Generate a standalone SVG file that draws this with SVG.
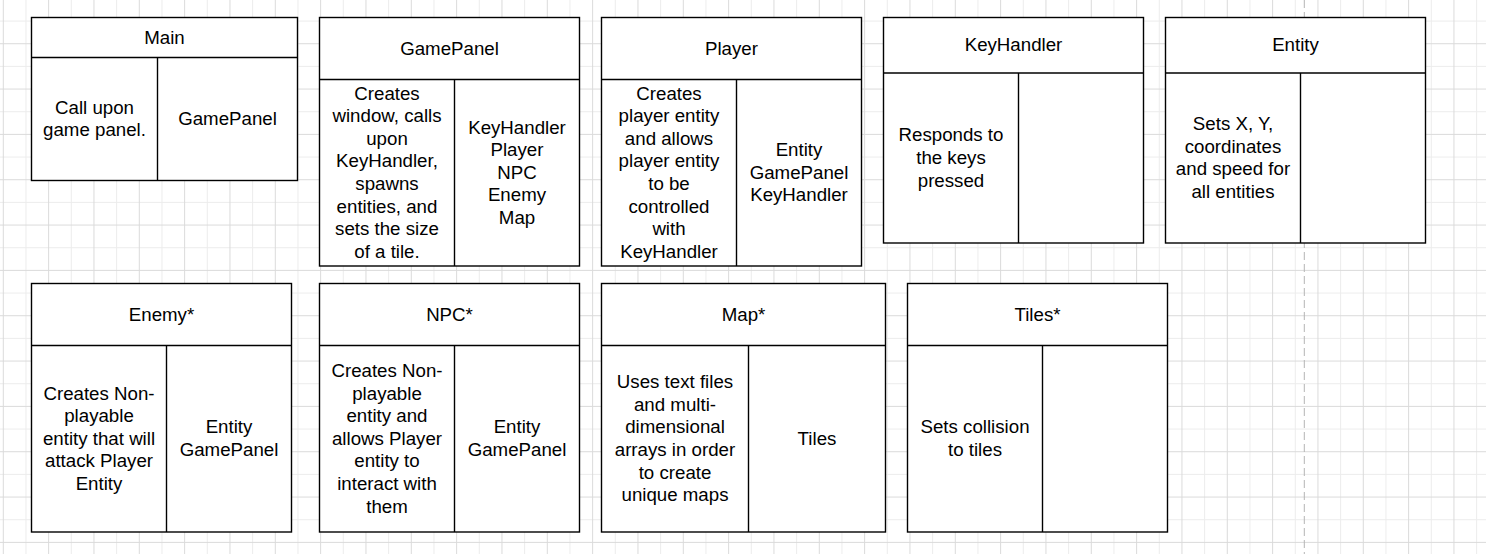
<svg xmlns="http://www.w3.org/2000/svg" width="1486" height="554" viewBox="0 0 1486 554">
<defs>
<pattern id="grid" patternUnits="userSpaceOnUse" x="2.8" y="-2.1" width="45.333" height="45.333">
<rect x="22.667" y="0" width="1" height="45.333" fill="#ececec"/>
<rect x="0" y="22.667" width="45.333" height="1" fill="#ececec"/>
<rect x="0" y="0" width="1" height="45.333" fill="#dadada"/>
<rect x="0" y="0" width="45.333" height="1" fill="#dadada"/>
</pattern>
<style>
.box rect{fill:#ffffff;stroke:#000000;stroke-width:1.4}
.box line{stroke:#000000;stroke-width:1.4}
.box text{font-family:"Liberation Sans",Arial,sans-serif;font-size:18.7px;fill:#000000;text-anchor:middle}
</style>
</defs>
<rect x="0" y="0" width="1486" height="554" fill="#ffffff"/>
<rect x="0" y="0" width="1486" height="554" fill="url(#grid)"/>
<line x1="1304.3" y1="0" x2="1304.3" y2="554" stroke="#b5b5b5" stroke-width="1" stroke-dasharray="8 4"/>
<g id="connectors"></g>

<g id="main" class="box">
<rect x="31.5" y="17.5" width="266" height="163"/>
<line x1="31.5" y1="57.5" x2="297.5" y2="57.5"/>
<line x1="157.5" y1="57.5" x2="157.5" y2="180.5"/>
<text x="164.5" y="43.5">Main</text>
<text x="94.5" y="113.7">Call upon</text>
<text x="94.5" y="136.3">game panel.</text>
<text x="227.5" y="125">GamePanel</text>
</g>

<g id="gamepanel" class="box">
<rect x="319.5" y="17.5" width="260" height="248.5"/>
<line x1="319.5" y1="79.5" x2="579.5" y2="79.5"/>
<line x1="454.5" y1="79.5" x2="454.5" y2="266"/>
<text x="449.5" y="54.5">GamePanel</text>
<text x="387" y="99.65">Creates</text>
<text x="387" y="122.25">window, calls</text>
<text x="387" y="144.85">upon</text>
<text x="387" y="167.45">KeyHandler,</text>
<text x="387" y="190.05">spawns</text>
<text x="387" y="212.65">entities, and</text>
<text x="387" y="235.25">sets the size</text>
<text x="387" y="257.85">of a tile.</text>
<text x="517" y="133.55">KeyHandler</text>
<text x="517" y="156.15">Player</text>
<text x="517" y="178.75">NPC</text>
<text x="517" y="201.35">Enemy</text>
<text x="517" y="223.95">Map</text>
</g>

<g id="player" class="box">
<rect x="601.5" y="17.5" width="260" height="248.5"/>
<line x1="601.5" y1="79.5" x2="861.5" y2="79.5"/>
<line x1="736.5" y1="79.5" x2="736.5" y2="266"/>
<text x="731.5" y="54.5">Player</text>
<text x="669" y="99.65">Creates</text>
<text x="669" y="122.25">player entity</text>
<text x="669" y="144.85">and allows</text>
<text x="669" y="167.45">player entity</text>
<text x="669" y="190.05">to be</text>
<text x="669" y="212.65">controlled</text>
<text x="669" y="235.25">with</text>
<text x="669" y="257.85">KeyHandler</text>
<text x="799" y="156.15">Entity</text>
<text x="799" y="178.75">GamePanel</text>
<text x="799" y="201.35">KeyHandler</text>
</g>

<g id="keyhandler" class="box">
<rect x="883.5" y="17.5" width="260" height="225.5"/>
<line x1="883.5" y1="73" x2="1143.5" y2="73"/>
<line x1="1018.5" y1="73" x2="1018.5" y2="243"/>
<text x="1013.5" y="51.25">KeyHandler</text>
<text x="951" y="141.4">Responds to</text>
<text x="951" y="164">the keys</text>
<text x="951" y="186.6">pressed</text>
</g>

<g id="entity" class="box">
<rect x="1165.5" y="17.5" width="260" height="225.5"/>
<line x1="1165.5" y1="73" x2="1425.5" y2="73"/>
<line x1="1300.5" y1="73" x2="1300.5" y2="243"/>
<text x="1295.5" y="51.25">Entity</text>
<text x="1233" y="130.1">Sets X, Y,</text>
<text x="1233" y="152.7">coordinates</text>
<text x="1233" y="175.3">and speed for</text>
<text x="1233" y="197.9">all entities</text>
</g>

<g id="enemy" class="box">
<rect x="31.5" y="283.5" width="260" height="248.5"/>
<line x1="31.5" y1="345.5" x2="291.5" y2="345.5"/>
<line x1="166.5" y1="345.5" x2="166.5" y2="532"/>
<text x="161.5" y="320.5">Enemy*</text>
<text x="99" y="399.55">Creates Non-</text>
<text x="99" y="422.15">playable</text>
<text x="99" y="444.75">entity that will</text>
<text x="99" y="467.35">attack Player</text>
<text x="99" y="489.95">Entity</text>
<text x="229" y="433.45">Entity</text>
<text x="229" y="456.05">GamePanel</text>
</g>

<g id="npc" class="box">
<rect x="319.5" y="283.5" width="260" height="248.5"/>
<line x1="319.5" y1="345.5" x2="579.5" y2="345.5"/>
<line x1="454.5" y1="345.5" x2="454.5" y2="532"/>
<text x="449.5" y="320.5">NPC*</text>
<text x="387" y="376.95">Creates Non-</text>
<text x="387" y="399.55">playable</text>
<text x="387" y="422.15">entity and</text>
<text x="387" y="444.75">allows Player</text>
<text x="387" y="467.35">entity to</text>
<text x="387" y="489.95">interact with</text>
<text x="387" y="512.55">them</text>
<text x="517" y="433.45">Entity</text>
<text x="517" y="456.05">GamePanel</text>
</g>

<g id="map" class="box">
<rect x="601.5" y="283.5" width="284" height="248.5"/>
<line x1="601.5" y1="345.5" x2="885.5" y2="345.5"/>
<line x1="748.5" y1="345.5" x2="748.5" y2="532"/>
<text x="743.5" y="320.5">Map*</text>
<text x="675" y="388.25">Uses text files</text>
<text x="675" y="410.85">and multi-</text>
<text x="675" y="433.45">dimensional</text>
<text x="675" y="456.05">arrays in order</text>
<text x="675" y="478.65">to create</text>
<text x="675" y="501.25">unique maps</text>
<text x="817" y="444.75">Tiles</text>
</g>

<g id="tiles" class="box">
<rect x="907.5" y="283.5" width="260" height="248.5"/>
<line x1="907.5" y1="345.5" x2="1167.5" y2="345.5"/>
<line x1="1042.5" y1="345.5" x2="1042.5" y2="532"/>
<text x="1037.5" y="320.5">Tiles*</text>
<text x="975" y="433.45">Sets collision</text>
<text x="975" y="456.05">to tiles</text>
</g>
</svg>
